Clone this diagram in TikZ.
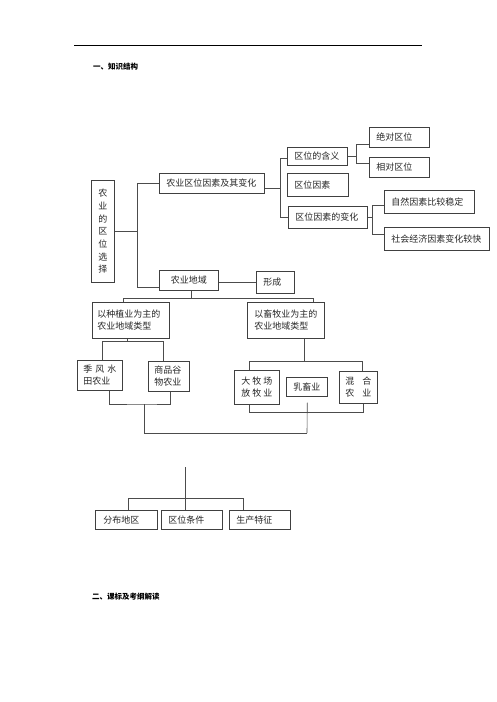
\documentclass[tikz,border=0pt]{standalone}
\usepackage{fontspec}
\newfontfamily\cjk{Noto Sans CJK SC}
\begin{document}
\begin{tikzpicture}[x=1pt,y=-1pt]
	\tikzstyle{b}=[draw=black!75, line width=0.6pt, anchor=north west, inner xsep=7pt, inner ysep=0pt, align=left, text=black!85, font=\cjk\fontsize{9}{12}\selectfont]
	\tikzstyle{ln}=[draw=black!70, line width=0.6pt]
	\tikzstyle{hd}=[anchor=west, inner sep=0pt, font=\cjk\bfseries\fontsize{7.5}{9}\selectfont]

	\useasboundingbox (0,0) rectangle (496,702);
	\draw[line width=0.9pt] (74,45) -- (422,45);

	\node[hd] (hd1) at (93,67) {一、知识结构};
	\node[hd] (hd2) at (92,597) {二、课标及考纲解读};

	% left column
	\node[b, text width=9pt, align=center, minimum height=102pt, font=\cjk\fontsize{9}{12.7}\selectfont] (q) at (91,180) {农\\业\\的\\区\\位\\选\\择};
	\node[b, text width=91pt, minimum height=20pt] (f) at (159,173) {农业区位因素及其变化};
	\node[b, text width=45pt, align=center, minimum height=20pt] (d) at (159,270) {农业地域};
	\node[b, text width=24pt, minimum height=22pt] (xc) at (256,271) {形成};

	% factors
	\node[b, text width=46pt, minimum height=18pt] (h1) at (287,147) {区位的含义};
	\node[b, text width=47pt, minimum height=23pt] (h2) at (287,173) {区位因素};
	\node[b, text width=65pt, minimum height=22pt] (h3) at (288,206) {区位因素的变化};
	\node[b, text width=46pt, minimum height=20pt] (a1) at (369,127) {绝对区位};
	\node[b, text width=46pt, minimum height=20pt] (a2) at (369,157) {相对区位};
	\node[b, text width=76pt, minimum height=23pt] (c1) at (384,190) {自然因素比较稳定};
	\node[b, text width=90.5pt, minimum height=23pt] (c2) at (384,227) {社会经济因素变化较快};

	% regions
	\node[b, text width=67pt, inner xsep=5pt, minimum height=36pt] (t1) at (92,302) {以种植业为主的\\农业地域类型};
	\node[b, text width=63pt, minimum height=36pt] (t2) at (247,302) {以畜牧业为主的\\农业地域类型};
	\node[b, text width=33pt, inner xsep=6pt, minimum height=30pt] (s1) at (77,360) {季\hspace{3pt}风\hspace{3pt}水\\田农业};
	\node[b, text width=29pt, inner xsep=6pt, minimum height=30pt] (s2) at (148,361) {商品谷\\物农业};
	\node[b, text width=31pt, minimum height=34pt] (p1) at (234,370) {大\hspace{2pt}牧\hspace{2pt}场\\放\hspace{2pt}牧\hspace{2pt}业};
	\node[b, text width=27pt, minimum height=19pt] (p2) at (286,377) {乳畜业};
	\node[b, text width=26pt, inner xsep=6pt, minimum height=32pt] (p3) at (339,371) {混\hfill 合\\农\hfill 业};

	\node[b, text width=46pt, inner xsep=8pt, minimum height=19pt] (r1) at (95,510) {分布地区};
	\node[b, text width=47pt, minimum height=19pt] (r2) at (161,510) {区位条件};
	\node[b, text width=47pt, minimum height=19pt] (r3) at (229,510) {生产特征};

	% connectors
	\draw[ln] (q.east) -- ++(23,0) coordinate (k0);
	\draw[ln] (f.west) -| (k0) |- ([yshift=-7pt]d.west);
	\draw[ln] ([yshift=-2pt]d.east) -- (xc.west);

	\draw[ln] ([yshift=-5pt]f.east) -- ++(16,0) coordinate (k1);
	\draw[ln] ([yshift=-2pt]h1.west) -| (k1) |- (h3.west);
	\draw[ln] (h1.east) -- ++(9,0) coordinate (k2);
	\draw[ln] ([yshift=-7pt]a1.west) -| (k2) |- ([yshift=4pt]a2.west);
	\draw[ln] (h3.east) -- ++(5,0) coordinate (k3);
	\draw[ln] ([yshift=-3.5pt]c1.west) -| (k3) |- ([yshift=4.5pt]c2.west);

	\draw[ln] ([xshift=2pt]d.south) -- ++(0,8) coordinate (k4);
	\draw[ln] ([xshift=18.5pt]t2.south) -- ++(0,23) coordinate (k6);
	\draw[ln] ([xshift=-3.5pt]t1.south) -- ++(0,3) coordinate (k5);
	\foreach \from/\dx/\to in {k4/-7.5/t1, k4/27.5/t2, k5/2.5/s1, k5/-5.5/s2, k6/-8/p1, k6/4/p3}
		\draw[ln] (\from) -| ([xshift=\dx pt]\to.north);

	\coordinate (k7) at (144,404);
	\coordinate (k8) at (307,433);
	\draw[ln] ([xshift=9.5pt]s1.south) |- (k7) -| ([xshift=1.5pt]s2.south);
	\draw[ln] (k7) |- (k8);
	\draw[ln] (k8) -- ([shift={(0.5pt,-6pt)}]p2.south);
	\draw[ln] ([xshift=-7.5pt]p1.south) -- ++(0,8) -| ([xshift=5pt]p3.south);

	\coordinate (k10) at (185,467);
	\draw[ln] (k10) -- ++(0,31) coordinate (k11);
	\foreach \dx/\to in {2/r1, -6.5/r2, -16.5/r3}
		\draw[ln] (k11) -| ([xshift=\dx pt]\to.north);
\end{tikzpicture}
\end{document}
